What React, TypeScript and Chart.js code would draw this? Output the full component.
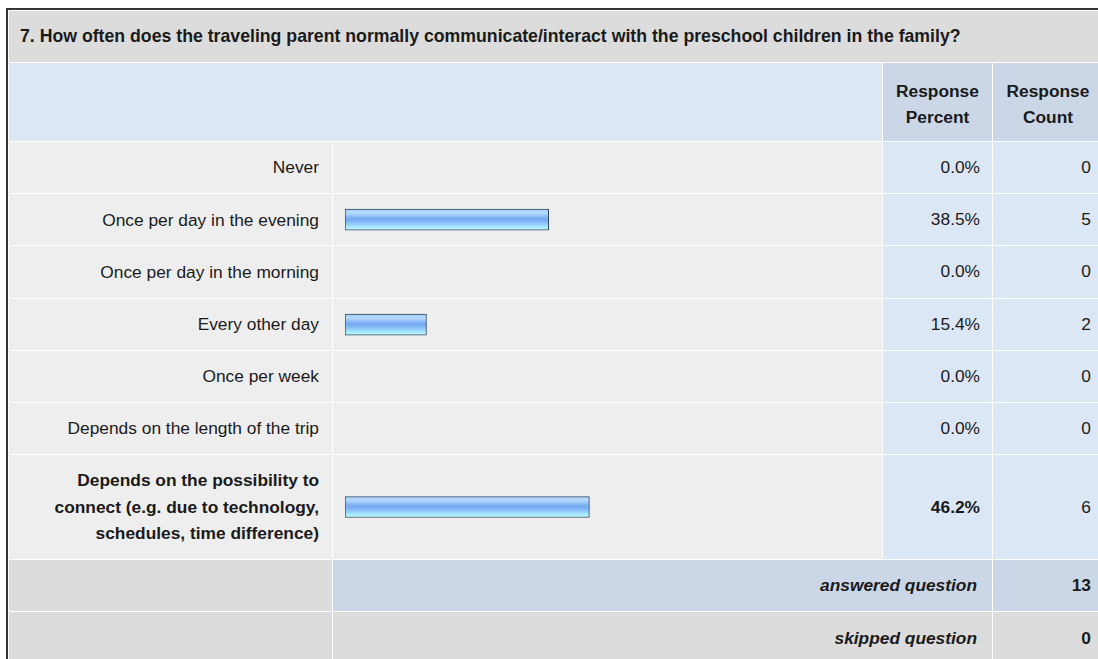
import React, { useEffect, useRef } from "react";
import { Chart, registerables } from "chart.js";

Chart.register(...registerables);

const questionTitle =
  "7. How often does the traveling parent normally communicate/interact with the preschool children in the family?";
const headerPercent = "Response Percent";
const headerCount = "Response Count";
const categories = [
  "Never",
  "Once per day in the evening",
  "Once per day in the morning",
  "Every other day",
  "Once per week",
  "Depends on the length of the trip",
  "Depends on the possibility to connect (e.g. due to technology, schedules, time difference)",
];
const responsePercent = [0.0, 38.5, 0.0, 15.4, 0.0, 0.0, 46.2];
const responseCount = [0, 5, 0, 2, 0, 0, 6];
const answeredLabel = "answered question";
const skippedLabel = "skipped question";
const answeredQuestion = 13;
const skippedQuestion = 0;

const FONT = '"Liberation Sans", Arial, Helvetica, sans-serif';
const FS = "17.33px";
const TEXT = "#1a1a1a";

const C_TITLE = "#dcdcdc";
const C_HEAD = "#dce7f5";
const C_HEAD2 = "#cbd7e6";
const C_ROW = "#eeeeee";
const C_ROW2 = "#dce7f5";
const C_SKIP = "#dcdcdc";

function BarCell({ value }: { value: number }) {
  const ref = useRef<HTMLCanvasElement>(null);
  useEffect(() => {
    if (!ref.current) return;
    const chart = new Chart(ref.current, {
      type: "bar",
      data: {
        labels: [""],
        datasets: [
          {
            data: [value],
            backgroundColor: (c: any) => {
              const ch = c.chart;
              const area = ch.chartArea;
              if (!area) return "#8fbff5";
              const cy = (area.top + area.bottom) / 2;
              const g = ch.ctx.createLinearGradient(0, cy - 10.5, 0, cy + 10.5);
              g.addColorStop(0, "#a4cdf9");
              g.addColorStop(0.18, "#b6dbff");
              g.addColorStop(0.45, "#78aaf0");
              g.addColorStop(0.58, "#7eb4f4");
              g.addColorStop(0.85, "#a9e8ff");
              g.addColorStop(1, "#c2fcff");
              return g;
            },
            borderColor: "#2e4866",
            borderWidth: 1,
            borderSkipped: false,
            barThickness: 21,
          } as any,
        ],
      },
      options: {
        animation: false,
        responsive: true,
        maintainAspectRatio: false,
        indexAxis: "y",
        events: [],
        layout: { padding: { left: 12, right: 8, top: 0, bottom: 0 } },
        scales: {
          x: { display: false, min: 0, max: 100 },
          y: { display: false },
        },
        plugins: { legend: { display: false }, tooltip: { enabled: false } },
      },
    });
    return () => chart.destroy();
  }, [value]);
  return (
    <div style={{ position: "absolute", inset: 0 }}>
      <canvas ref={ref} />
    </div>
  );
}

const cell = (bg: string, extra: React.CSSProperties = {}): React.CSSProperties => ({
  background: bg,
  display: "flex",
  alignItems: "center",
  boxSizing: "border-box",
  position: "relative",
  fontFamily: FONT,
  fontSize: FS,
  color: TEXT,
  ...extra,
});

export default function App() {
  const maxPct = Math.max(...responsePercent);
  const rows: React.ReactNode[] = [];
  categories.forEach((cat, i) => {
    const bold = responsePercent[i] === maxPct;
    const fw = bold ? "bold" : "normal";
    rows.push(
      <div
        key={"l" + i}
        style={cell(C_ROW, {
          justifyContent: "flex-end",
          textAlign: "right",
          padding: "0 13px 0 20px",
          fontWeight: fw,
          lineHeight: "26.5px",
        })}
      >
        {cat}
      </div>,
      <div key={"b" + i} style={cell(C_ROW)}>
        <BarCell value={responsePercent[i]} />
      </div>,
      <div key={"p" + i} style={cell(C_ROW2, { justifyContent: "flex-end", paddingRight: 12, fontWeight: fw })}>
        {responsePercent[i].toFixed(1) + "%"}
      </div>,
      <div key={"c" + i} style={cell(C_ROW2, { justifyContent: "flex-end", paddingRight: 12 })}>
        {String(responseCount[i])}
      </div>
    );
  });

  return (
    <div style={{ position: "fixed", inset: 0, background: "#fff", overflow: "hidden" }}>
      <div
        style={{
          position: "absolute",
          left: 6,
          top: 8,
          borderLeft: "2px solid #333",
          borderTop: "2px solid #333",
          background: "#fff",
          padding: 1,
        }}
      >
        <div
          style={{
            display: "grid",
            gridTemplateColumns: "323px 549px 109px 110px",
            gridTemplateRows: "51px 78px repeat(6, 51.2px) 104px 51.3px 51.2px",
            gap: 1,
          }}
        >
          <div
            style={cell(C_TITLE, {
              gridColumn: "1 / 5",
              paddingLeft: 11,
              fontWeight: "bold",
              fontSize: "17.7px",
              whiteSpace: "nowrap",
            })}
          >
            {questionTitle}
          </div>
          <div style={cell(C_HEAD, { gridColumn: "1 / 3" })} />
          <div
            style={cell(C_HEAD2, {
              justifyContent: "center",
              textAlign: "center",
              fontWeight: "bold",
              lineHeight: "26px",
              padding: "4px 6px 0",
            })}
          >
            {headerPercent}
          </div>
          <div
            style={cell(C_HEAD2, {
              justifyContent: "center",
              textAlign: "center",
              fontWeight: "bold",
              lineHeight: "26px",
              padding: "4px 6px 0",
            })}
          >
            {headerCount}
          </div>
          {rows}
          <div style={cell(C_SKIP)} />
          <div
            style={cell(C_HEAD2, {
              gridColumn: "2 / 4",
              justifyContent: "flex-end",
              paddingRight: 15,
              fontWeight: "bold",
              fontStyle: "italic",
            })}
          >
            {answeredLabel}
          </div>
          <div style={cell(C_HEAD2, { justifyContent: "flex-end", paddingRight: 12, fontWeight: "bold" })}>
            {String(answeredQuestion)}
          </div>
          <div style={cell(C_SKIP)} />
          <div
            style={cell(C_SKIP, {
              gridColumn: "2 / 4",
              justifyContent: "flex-end",
              paddingRight: 15,
              fontWeight: "bold",
              fontStyle: "italic",
            })}
          >
            {skippedLabel}
          </div>
          <div style={cell(C_SKIP, { justifyContent: "flex-end", paddingRight: 12, fontWeight: "bold" })}>
            {String(skippedQuestion)}
          </div>
        </div>
      </div>
    </div>
  );
}
